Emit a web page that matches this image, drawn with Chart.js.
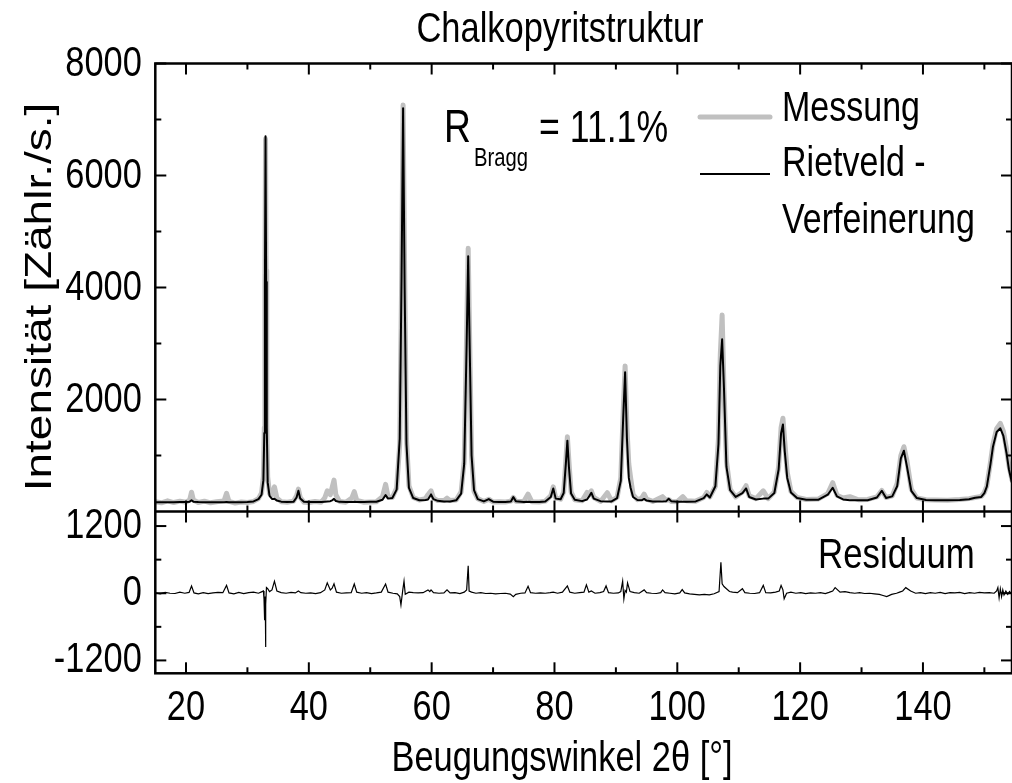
<!DOCTYPE html>
<html><head><meta charset="utf-8">
<script src="https://cdn.jsdelivr.net/npm/chart.js@4.4.1/dist/chart.umd.min.js"></script>
<style>html,body{margin:0;padding:0;background:#fff;}canvas{display:block;}</style>
</head><body>
<canvas id="c" width="1012" height="783"></canvas>
<script>
// ---- data ----
const angles = [15.0,16.0,17.0,18.0,19.0,20.0,20.6,20.9,21.2,22.0,23.0,24.0,25.0,26.2,26.6,27.0,28.0,29.0,30.0,31.0,31.8,32.3,32.6,32.75,32.85,32.95,33.05,33.15,33.3,33.6,34.0,34.4,34.8,35.5,36.5,37.5,38.0,38.3,38.6,39.2,40.0,41.0,42.0,42.6,43.0,43.5,43.8,44.1,44.4,45.0,46.0,47.0,47.4,47.8,49.0,50.0,51.0,52.0,52.5,52.9,53.6,54.3,54.8,55.1,55.35,55.6,55.9,56.3,57.0,58.0,59.0,59.4,59.9,60.3,61.0,62.0,62.5,63.0,64.0,64.8,65.3,65.7,65.95,66.2,66.5,66.9,67.5,68.5,69.3,70.0,71.0,72.0,72.9,73.3,73.7,75.0,75.7,76.3,77.5,78.5,79.4,79.8,80.2,81.0,81.5,81.85,82.1,82.35,82.7,83.3,84.5,85.3,85.7,86.0,86.4,87.5,88.6,89.3,90.2,90.8,91.2,91.5,91.8,92.1,92.4,92.8,93.5,94.2,94.6,95.0,96.0,97.6,98.2,98.6,99.0,100.0,100.9,101.5,103.0,104.3,104.8,105.3,106.2,106.7,107.0,107.3,107.6,108.0,108.6,109.5,110.6,111.2,111.7,112.8,114.0,114.8,115.8,116.5,116.9,117.2,117.5,117.9,118.5,119.5,121.0,123.0,124.5,125.3,126.0,127.0,128.1,129.5,131.0,132.5,133.3,134.0,135.0,135.8,136.4,136.9,137.4,138.1,139.0,140.5,142.0,144.0,146.0,147.5,148.5,149.5,150.0,150.4,151.0,151.4,152.0,152.6,153.1,153.6,154.0,154.5];
const messung = [175,155,190,160,185,165,210,345,205,160,185,155,175,190,325,180,150,170,160,180,230,330,620,1500,4000,6650,4300,1600,620,320,300,440,240,175,165,185,280,400,250,165,160,180,165,245,370,300,430,560,300,180,165,240,355,200,165,170,175,265,485,265,250,420,1200,4000,7260,4300,1300,460,250,205,230,300,370,240,195,195,240,195,205,350,900,3200,4700,3000,1000,360,230,180,220,170,175,170,185,250,185,180,310,175,170,185,280,440,240,220,350,900,1335,900,350,210,190,340,300,370,250,180,335,190,255,600,1800,2600,1500,850,600,300,210,240,310,220,180,265,200,215,180,175,265,190,185,250,340,260,450,1300,2800,3510,2200,900,400,260,350,460,280,230,370,230,350,800,1500,1665,1250,700,360,250,215,225,320,515,290,240,265,210,215,260,375,250,280,500,1000,1157,900,400,240,210,205,200,215,230,250,270,340,460,880,1200,1480,1575,1430,1120,820,560];
const rietveld = [165,165,166,167,168,170,176,200,176,168,166,166,166,166,168,166,166,167,170,180,220,300,560,1400,4000,6700,4100,1500,520,280,225,228,195,176,170,172,250,370,230,172,170,168,168,175,180,185,200,225,188,172,170,170,172,170,170,172,175,210,295,230,240,390,1300,4200,7200,4000,1200,420,240,200,205,215,305,220,190,180,180,180,200,320,850,3000,4560,2900,1000,380,220,180,222,175,170,170,180,258,185,170,172,170,170,180,260,412,230,220,330,850,1265,800,320,210,185,215,280,335,230,185,180,180,240,550,1700,2485,1300,600,420,260,205,200,225,195,180,180,185,228,185,172,175,175,180,240,305,250,450,1200,2600,3075,2200,800,380,260,330,412,260,215,230,230,330,750,1400,1555,1070,600,340,240,210,210,300,425,270,215,200,200,200,250,370,240,270,450,950,1086,800,370,240,205,200,200,205,220,245,260,330,443,850,1157,1420,1486,1350,1050,750,509];
const resAngles = [15.0,15.8,16.6,17.4,18.2,19.0,19.8,20.5,20.9,21.3,22.0,22.8,23.6,24.4,25.2,26.0,26.6,27.0,27.8,28.6,29.4,30.2,31.0,31.8,32.3,32.6,32.7,32.8,32.9,32.95,33.0,33.1,33.3,33.6,34.0,34.4,34.8,35.5,36.3,37.1,37.8,38.3,38.7,39.5,40.3,41.1,41.9,42.6,43.0,43.5,43.8,44.1,44.5,45.3,46.1,46.9,47.4,47.8,48.6,49.4,50.2,51.0,51.8,52.5,52.9,53.7,54.4,54.8,55.0,55.3,55.5,55.7,56.3,57.0,57.8,58.6,59.4,59.7,59.9,60.3,61.2,62.0,62.5,63.0,63.8,64.6,65.3,65.7,65.95,66.1,66.5,67.2,68.0,68.8,69.6,70.4,71.2,72.0,72.8,73.3,73.7,74.5,75.2,75.7,76.1,76.9,77.7,78.5,79.3,79.8,80.5,81.3,82.1,82.5,83.3,84.1,84.8,85.2,85.6,86.0,86.6,87.4,88.0,88.4,88.8,89.6,90.4,90.8,91.1,91.3,91.5,91.7,91.9,92.3,93.0,93.8,94.6,95.0,95.8,96.6,97.3,97.6,98.0,98.8,99.6,100.4,100.8,101.2,102.0,102.8,103.6,104.4,105.2,106.0,106.8,107.1,107.3,107.6,108.0,108.5,109.0,109.8,110.6,111.0,111.8,112.6,113.4,114.0,114.4,115.2,116.0,116.6,116.9,117.2,117.4,117.8,118.5,119.3,120.1,120.9,121.7,122.5,123.3,124.1,124.7,125.3,125.7,126.5,127.3,128.1,128.9,129.7,130.5,131.3,132.1,132.9,133.5,134.1,134.9,135.7,136.2,136.7,137.2,138.0,138.8,139.6,140.4,141.2,142.0,142.8,143.6,144.4,145.2,146.0,146.8,147.6,148.4,149.2,150.0,150.8,151.6,152.0,152.2,152.4,152.6,152.8,153.0,153.2,153.5,153.8,154.1,154.5];
const residuum = [5,-10,15,0,-5,20,0,15,130,5,-10,10,-5,5,15,10,140,5,-10,15,-5,10,20,0,25,40,-100,-480,-60,-960,-200,100,80,30,60,215,40,10,0,15,5,40,10,0,5,-5,10,60,185,60,90,170,20,0,5,10,165,20,0,10,-5,5,20,165,20,0,-10,-60,-210,60,215,-20,20,10,5,10,60,30,60,10,0,5,60,5,10,-5,20,60,490,40,20,0,10,-5,0,-10,-5,0,-15,-60,-20,0,5,125,10,0,5,0,10,20,0,20,130,20,0,10,20,150,20,40,0,10,30,130,10,0,5,30,215,-100,50,20,185,30,10,0,60,10,0,-5,10,60,10,0,-10,5,65,5,-10,-20,-30,-20,-30,-10,30,555,170,120,80,30,20,10,80,10,0,-5,10,140,10,5,20,40,140,60,-100,0,20,0,10,-5,5,0,10,-5,15,40,100,20,30,10,0,10,-5,0,-10,-20,-40,-60,-20,0,20,40,100,40,0,10,-5,10,0,15,-5,10,5,15,-5,10,0,15,5,10,0,40,100,-80,80,-60,60,-30,40,-20,30,-20];
const xTickLabels = [20,40,60,80,100,120,140];
const xMinorTicks = [30,50,70,90,110,130,150];
const yTicksTop = [2000,4000,6000,8000];
const yMinorTop = [1000,3000,5000,7000];
const yTicksRes = [-1200,0,1200];
const yMinorRes = [-600,600];
const titleText = 'Chalkopyritstruktur';
const xTitleText = 'Beugungswinkel 2\u03B8 [\u00B0]';
const yTitleText = 'Intensit\u00E4t [Z\u00E4hlr./s.]';
const legendLabels = ['Messung', 'Rietveld -', 'Verfeinerung'];
const rLabel = ['R', 'Bragg', '= 11.1%'];
const residuumLabel = 'Residuum';

const FW = "'Liberation Sans', Arial, sans-serif";
const SX = 0.81; // horizontal squeeze of the narrow lettering

const pts = (xs, ys) => xs.map((x, i) => ({x, y: ys[i]}));

function narrowText(ctx, str, x, y, size, align, sx) {
  ctx.save();
  ctx.translate(x, y);
  ctx.scale(sx || SX, 1);
  ctx.font = size + 'px ' + FW;
  ctx.textAlign = align;
  ctx.textBaseline = 'alphabetic';
  ctx.fillText(str, 0, 0);
  ctx.restore();
}

const framePlugin = {
  id: 'frame',
  afterDatasetsDraw(chart) {
    const ctx = chart.ctx, x = chart.scales.x, yt = chart.scales.y, yr = chart.scales.yRes;
    ctx.save();
    ctx.strokeStyle = '#000';
    ctx.lineCap = 'butt';
    const seg = (x1, y1, x2, y2) => { ctx.beginPath(); ctx.moveTo(x1, y1); ctx.lineTo(x2, y2); ctx.stroke(); };
    ctx.lineWidth = 2;
    const L = 11, S = 6;
    for (const [vals, len] of [[xTickLabels, L], [xMinorTicks, S]]) {
      for (const v of vals) {
        const px = x.getPixelForValue(v);
        if (px < x.left || px > x.right) continue;
        seg(px, yt.top, px, yt.top + len);
        seg(px, yt.bottom, px, yt.bottom - len);
        seg(px, yr.top, px, yr.top + len);
        seg(px, yr.bottom, px, yr.bottom - len);
      }
    }
    for (const [s, maj, mn] of [[yt, yTicksTop, yMinorTop], [yr, yTicksRes, yMinorRes]]) {
      for (const [vals, len] of [[maj, L], [mn, S]]) {
        for (const v of vals) {
          const py = s.getPixelForValue(v);
          seg(x.left, py, x.left + len, py);
          seg(x.right, py, x.right - len, py);
        }
      }
    }
    ctx.lineWidth = 2.5;
    ctx.strokeRect(x.left, yt.top, x.right - x.left, yr.bottom - yt.top);
    seg(x.left, yt.bottom, x.right, yt.bottom);
    ctx.restore();
  }
};

const textPlugin = {
  id: 'texts',
  afterDraw(chart) {
    const ctx = chart.ctx, x = chart.scales.x, yt = chart.scales.y, yr = chart.scales.yRes;
    ctx.save();
    ctx.fillStyle = '#000';
    // tick labels, placed by the library's scales
    for (const v of xTickLabels) narrowText(ctx, String(v), x.getPixelForValue(v), x.top + 47, 43, 'center', 0.8);
    for (const v of yTicksTop) narrowText(ctx, String(v), x.left - 13.5, yt.getPixelForValue(v) + 12, 43, 'right', 0.8);
    for (const v of yTicksRes) narrowText(ctx, String(v), x.left - 13.5, yr.getPixelForValue(v) + 12, 43, 'right', 0.8);
    // titles
    narrowText(ctx, titleText, 560, 42, 42, 'center', 0.82);
    narrowText(ctx, xTitleText, 562, 771, 42, 'center', 0.82);
    ctx.save();
    ctx.translate(51, 297);
    ctx.rotate(-Math.PI / 2);
    ctx.scale(1, 0.82);
    ctx.font = '46px ' + FW;
    ctx.textAlign = 'center';
    ctx.textBaseline = 'alphabetic';
    ctx.fillText(yTitleText, 0, 0);
    ctx.restore();
    // legend
    narrowText(ctx, legendLabels[0], 782, 121, 42, 'left');
    narrowText(ctx, legendLabels[1], 782, 176, 42, 'left');
    narrowText(ctx, legendLabels[2], 782, 233, 42, 'left');
    ctx.lineCap = 'round';
    ctx.strokeStyle = '#c0c0c0'; ctx.lineWidth = 5;
    ctx.beginPath(); ctx.moveTo(700, 117); ctx.lineTo(770, 117); ctx.stroke();
    ctx.lineCap = 'butt';
    ctx.strokeStyle = '#000'; ctx.lineWidth = 2;
    ctx.beginPath(); ctx.moveTo(700, 174); ctx.lineTo(770, 174); ctx.stroke();
    // R_Bragg
    narrowText(ctx, rLabel[0], 444, 142, 46, 'left');
    narrowText(ctx, rLabel[1], 474, 166, 25, 'left');
    narrowText(ctx, rLabel[2], 539, 142, 44, 'left');
    // Residuum
    narrowText(ctx, residuumLabel, 818, 568, 43, 'left');
    ctx.restore();
  }
};

const hiddenTicks = {display: false};

new Chart(document.getElementById('c'), {
  type: 'line',
  data: {
    datasets: [
      {label: 'Rietveld - Verfeinerung', data: pts(angles, rietveld), xAxisID: 'x', yAxisID: 'y', borderColor: '#000', borderWidth: 2, pointRadius: 0, tension: 0, borderJoinStyle: 'round', order: 1},
      {label: 'Messung', data: pts(angles, messung), xAxisID: 'x', yAxisID: 'y', borderColor: '#c0c0c0', borderWidth: 5, pointRadius: 0, tension: 0, borderJoinStyle: 'round', borderCapStyle: 'round', order: 2},
      {label: 'Residuum', data: pts(resAngles, residuum), xAxisID: 'x', yAxisID: 'yRes', borderColor: '#000', borderWidth: 1.2, pointRadius: 0, tension: 0, order: 3}
    ]
  },
  options: {
    responsive: false,
    animation: false,
    devicePixelRatio: 1,
    layout: {padding: {top: 63.5, left: 0, right: 0, bottom: 0}},
    plugins: {legend: {display: false}, title: {display: false}, tooltip: {enabled: false}},
    scales: {
      x: {
        type: 'linear', position: 'bottom', min: 15, max: 154.5,
        grid: {display: false, drawTicks: false}, border: {display: false},
        afterBuildTicks: s => { s.ticks = xTickLabels.map(v => ({value: v})); },
        afterFit: s => { s.height = 109.7; },
        ticks: hiddenTicks
      },
      yRes: {
        type: 'linear', position: 'left', stack: 'panels', stackWeight: 161.8, weight: 0,
        min: -1430, max: 1460,
        grid: {display: false, drawTicks: false}, border: {display: false},
        afterBuildTicks: s => { s.ticks = yTicksRes.map(v => ({value: v})); },
        afterFit: s => { s.width = 155.3; },
        ticks: hiddenTicks
      },
      y: {
        type: 'linear', position: 'left', stack: 'panels', stackWeight: 448, weight: 1,
        min: 0, max: 8000,
        grid: {display: false, drawTicks: false}, border: {display: false},
        afterBuildTicks: s => { s.ticks = yTicksTop.map(v => ({value: v})); },
        afterFit: s => { s.width = 155.3; },
        ticks: hiddenTicks
      }
    }
  },
  plugins: [framePlugin, textPlugin]
});
</script>
</body></html>
